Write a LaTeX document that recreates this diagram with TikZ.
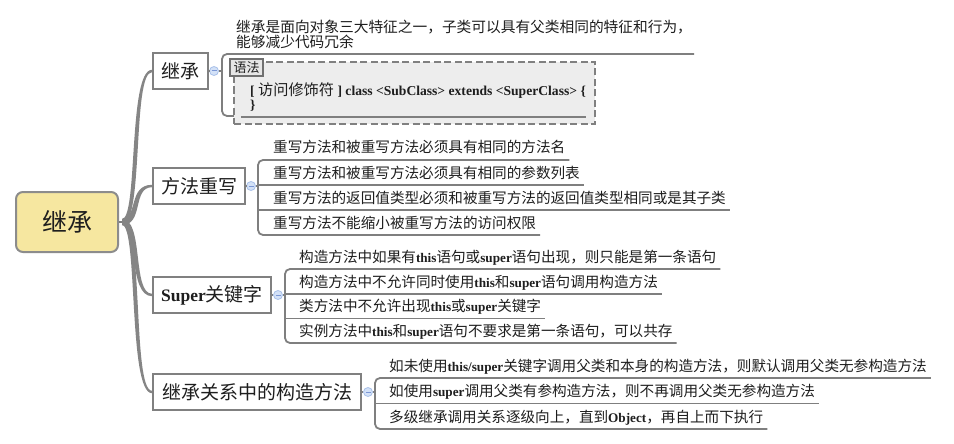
\documentclass[tikz,border=0pt]{standalone}
\usepackage{fontspec}
\setmainfont{Liberation Serif}
\newfontfamily\cjk{Noto Sans CJK SC}
\newfontfamily\lat{Liberation Serif}
\usetikzlibrary{calc}
\definecolor{linec}{HTML}{7F7F7F}
\definecolor{boxc}{HTML}{808080}
\definecolor{branchc}{HTML}{858585}
\definecolor{textc}{HTML}{1E1E1E}
\definecolor{rootf}{HTML}{F6E7A0}
\definecolor{rootd}{HTML}{8C8C8C}
\definecolor{collf}{HTML}{D3E1F7}
\definecolor{collb}{HTML}{A9C1EA}
\definecolor{collm}{HTML}{7B97D6}
\definecolor{synf}{HTML}{EDEDED}
\definecolor{labf}{HTML}{E6E6E6}
\definecolor{labb}{HTML}{707070}
\newcommand\kw[1]{{\lat\bfseries\fontsize{13.2}{15}\selectfont #1}}
\newcommand\kwc[1]{{\lat\bfseries\fontsize{13.6}{15}\selectfont #1}}
\newcommand\kwt[1]{{\lat\bfseries\fontsize{17.5}{20}\selectfont #1}}
\newcommand\brup[1]{\fill[br] ($(hub)+(0,-3)$) .. controls ($(hub)+(16,-3)$) and ($(#1.west)+(-24,-1.2)$) .. ($(#1.west)+(0,-1.2)$) -- ($(#1.west)+(0,1.2)$) .. controls ($(#1.west)+(-20,1.2)$) and ($(hub)+(22,3)$) .. ($(hub)+(0,3)$) -- cycle;}
\newcommand\brdown[1]{\fill[br] ($(hub)+(0,-3)$) .. controls ($(hub)+(22,-3)$) and ($(#1.west)+(-20,-1.2)$) .. ($(#1.west)+(0,-1.2)$) -- ($(#1.west)+(0,1.2)$) .. controls ($(#1.west)+(-24,1.2)$) and ($(hub)+(16,3)$) .. ($(hub)+(0,3)$) -- cycle;}
\tikzset{
  leaf/.style={anchor=base west, inner sep=0pt, font=\cjk\fontsize{14.6}{15}\selectfont, text=textc},
  topic/.style={draw=boxc, line width=2pt, fill=white, minimum height=36pt, inner sep=0pt, anchor=west, font=\cjk\fontsize{19}{22}\selectfont, text=textc},
  rootbox/.style={draw=rootd, line width=2pt, fill=rootf, rounded corners=7pt, minimum width=102pt, minimum height=60pt, inner sep=0pt, font=\cjk\fontsize{25}{28}\selectfont, text=textc},
  ul/.style={draw=linec, line width=1.8pt},
  brk/.style={draw=linec, line width=1.8pt, rounded corners=5pt},
  thinl/.style={draw=linec, line width=1.2pt},
  br/.style={fill=branchc},
  coll/.style={circle, draw=collb, fill=collf, line width=0.8pt, minimum size=9pt, inner sep=0pt,
    path picture={\draw[collm, line width=1pt] ([xshift=-2.5pt]path picture bounding box.center) -- ([xshift=2.5pt]path picture bounding box.center);}},
  synbox/.style={draw=boxc, fill=synf, line width=2.5pt, dash pattern=on 7pt off 3.5pt, minimum width=361pt, minimum height=62pt, inner sep=0pt},
  synlab/.style={draw=labb, fill=labf, line width=2.5pt, minimum width=33pt, minimum height=17pt, inner sep=0pt, font=\cjk\fontsize{13}{13}\selectfont, text=textc},
}
\begin{document}
\begin{tikzpicture}[x=1pt,y=-1pt]
\useasboundingbox (0,0) rectangle (954,444);
\fill[white] (0,0) rectangle (954,444);

% root and topics
\node[rootbox] (root) at (67,222) {继承};
\coordinate (hub) at (122,222);
\node[topic, minimum width=55pt] (t1) at (152,71) {继承};
\node[topic, minimum width=92pt] (t2) at (152,186) {方法重写};
\node[topic, minimum width=118pt] (t3) at (152,295) {\kwt{Super}关键字};
\node[topic, minimum width=208pt] (t4) at (152,392) {继承关系中的构造方法};

\draw[thinl] (root.east) -- (hub);
\brup{t1}
\brup{t2}
\brdown{t3}
\brdown{t4}

% group 1
\node[coll] (c1) at (214,71) {};
\coordinate (b1t) at (222,54);
\coordinate (b1b) at (222,116);
\node[leaf, anchor=north west, align=left, font=\cjk\fontsize{14.7}{15}\selectfont] (k1) at (236,20) {继承是面向对象三大特征之一，子类可以具有父类相同的特征和行为，\\能够减少代码冗余};
\path (k1.east |- b1t) coordinate (k1e);
\draw[brk] ($(k1e)+(2,0)$) -- (b1t) -- (b1b) -- (586,116);
\node[synbox] (syn) at (414.5,93) {};
\node[synlab] (lab) at (246.5,67.5) {语法};
\node[leaf, anchor=north west, align=left, font=\cjk\fontsize{15.2}{14}\selectfont] (code) at (250,82) {\kwc{[} 访问修饰符 \kwc{] class <SubClass> extends <SuperClass> \{}\\\kwc{\}}};
\draw[ul] ($(syn.south west)+(8,-8)$) -- ($(syn.south east)+(-10,-8)$);
\draw[thinl] (t1) -- (c1);
\draw[thinl] (c1) -- (222,71);

% group 2
\node[coll] (c2) at (251,186) {};
\node[leaf] (m1) at (273,153) {重写方法和被重写方法必须具有相同的方法名};
\node[leaf] (m2) at (273,178) {重写方法和被重写方法必须具有相同的参数列表};
\node[leaf] (m3) at (273,203) {重写方法的返回值类型必须和被重写方法的返回值类型相同或是其子类};
\node[leaf] (m4) at (273,228) {重写方法不能缩小被重写方法的访问权限};
\draw[brk] ($(m1.base east)+(4,7)$) -- (258,160) -- (258,235) -- ($(m4.base east)+(4,7)$);
\draw[ul] (258,185) -- ($(m2.base east)+(4,7)$);
\draw[ul] (258,210) -- ($(m3.base east)+(4,7)$);
\draw[thinl] (t2) -- (c2);
\draw[thinl] (c2) -- (258,186);

% group 3
\node[coll] (c3) at (278,295) {};
\node[leaf] (s1) at (299,262) {构造方法中如果有\kw{this}语句或\kw{super}语句出现，则只能是第一条语句};
\node[leaf] (s2) at (299,287) {构造方法中不允许同时使用\kw{this}和\kw{super}语句调用构造方法};
\node[leaf] (s3) at (299,311.5) {类方法中不允许出现\kw{this}或\kw{super}关键字};
\node[leaf] (s4) at (299,336) {实例方法中\kw{this}和\kw{super}语句不要求是第一条语句，可以共存};
\draw[brk] ($(s1.base east)+(4,7)$) -- (285,269) -- (285,343) -- ($(s4.base east)+(4,7)$);
\draw[ul] (285,294) -- ($(s2.base east)+(4,7)$);
\draw[ul] (285,318.5) -- ($(s3.base east)+(4,7)$);
\draw[thinl] (t3) -- (c3);
\draw[thinl] (c3) -- (285,295);

% group 4
\node[coll] (c4) at (368,392) {};
\node[leaf] (g1) at (389,371) {如未使用\kw{this/super}关键字调用父类和本身的构造方法，则默认调用父类无参构造方法};
\node[leaf] (g2) at (389,396.5) {如使用\kw{super}调用父类有参构造方法，则不再调用父类无参构造方法};
\node[leaf] (g3) at (389,422) {多级继承调用关系逐级向上，直到\kw{Object}，再自上而下执行};
\draw[brk] ($(g1.base east)+(4,7)$) -- (375,378) -- (375,429) -- ($(g3.base east)+(4,7)$);
\draw[ul] (375,403.5) -- ($(g2.base east)+(4,7)$);
\draw[thinl] (t4) -- (c4);
\draw[thinl] (c4) -- (375,392);
\end{tikzpicture}
\end{document}
